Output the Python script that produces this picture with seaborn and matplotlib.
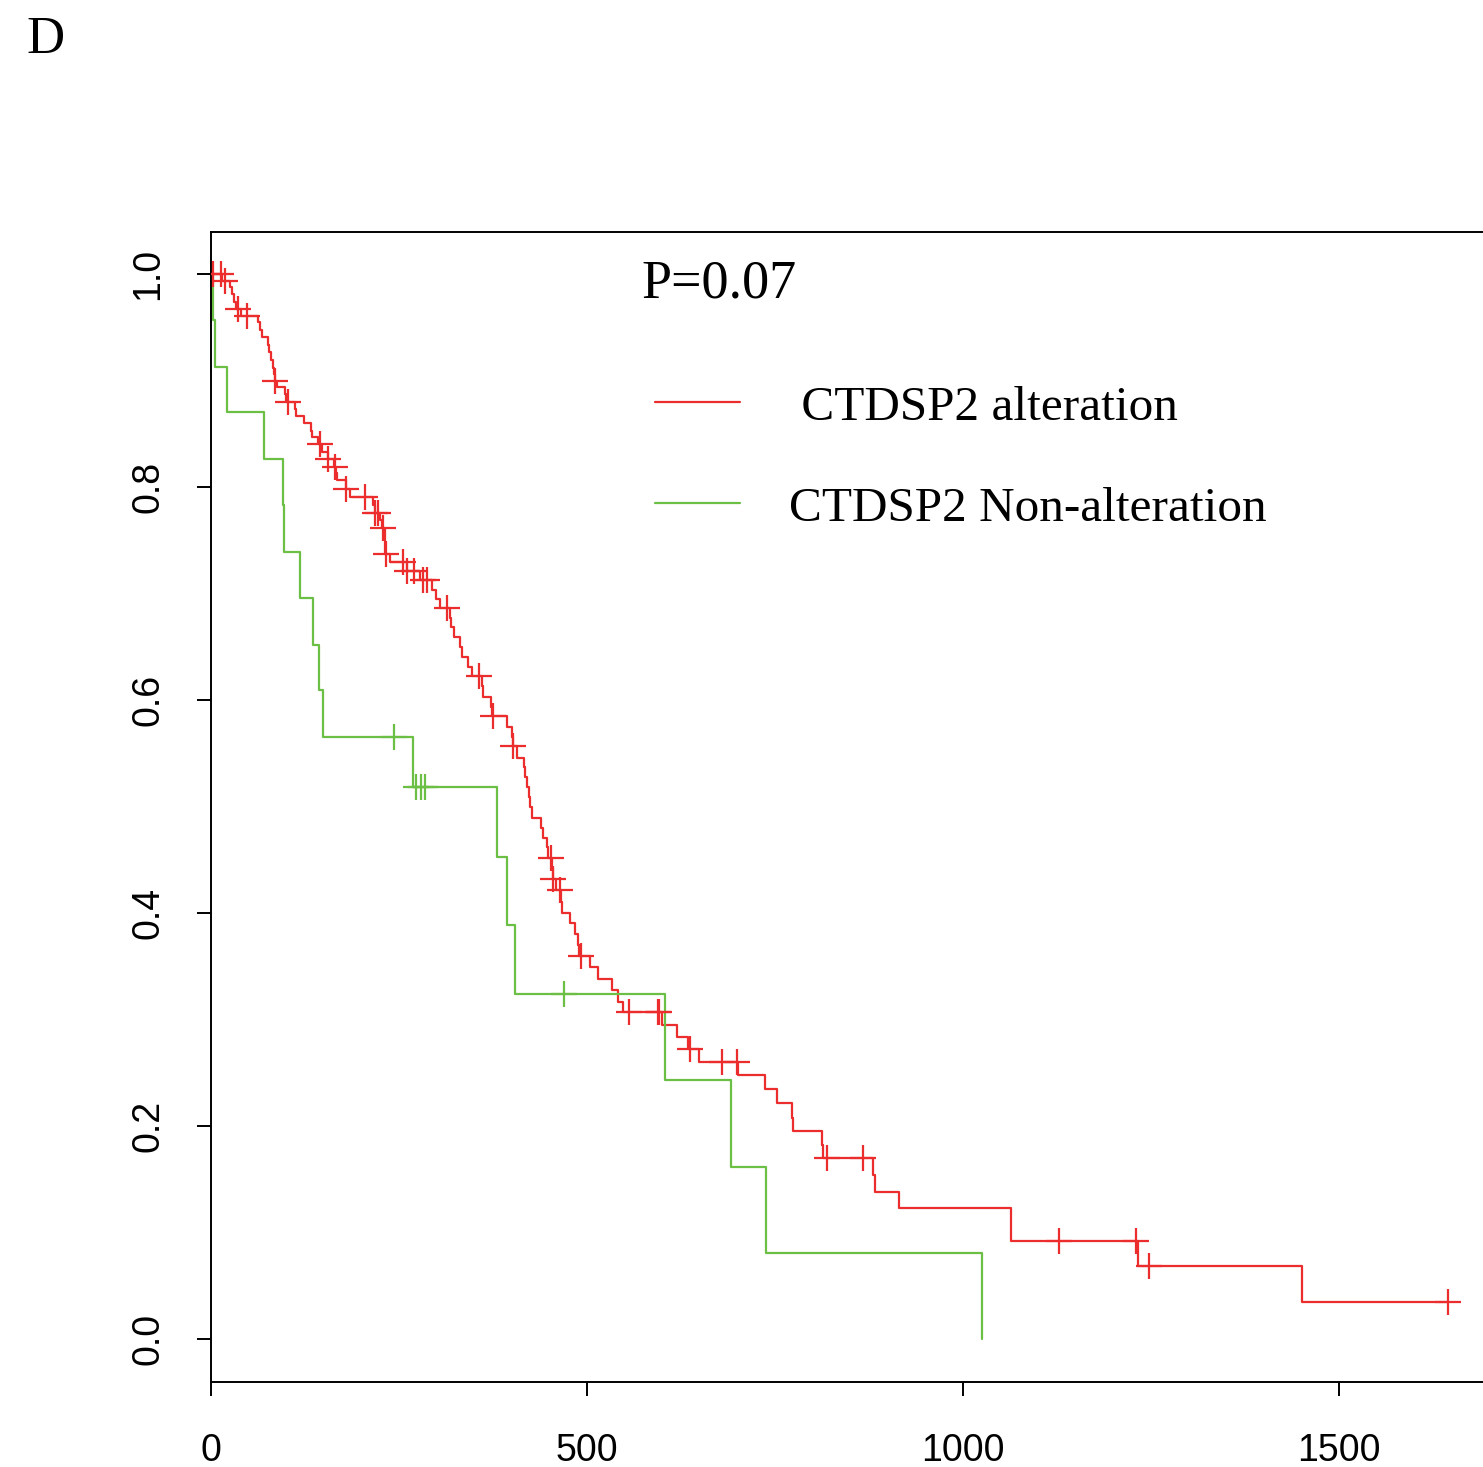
import numpy as np
import matplotlib
matplotlib.use("Agg")
import matplotlib.pyplot as plt
from matplotlib.lines import Line2D
import seaborn as sns

# Kaplan-Meier steps (time in days, survival after the drop)
alt_times = [15, 25, 28, 31, 33, 40, 63, 65, 68, 76, 77, 80, 82, 84, 85, 88,
             98, 100, 112, 113, 124, 133, 134, 142, 148, 156, 164, 166, 168, 180,
             185, 215, 218, 225, 227, 231, 232, 238, 261, 278, 294, 299, 305, 318,
             319, 323, 331, 334, 342, 347, 360, 362, 372, 374, 394, 400, 401, 407,
             416, 418, 420, 423, 424, 427, 439, 441, 447, 448, 453, 455, 459, 465,
             467, 477, 484, 488, 489, 504, 515, 533, 541, 548, 600, 620, 634, 649,
             701, 737, 753, 773, 774, 813, 814, 880, 883, 915, 1064, 1233, 1451]
alt_surv = [0.993, 0.988, 0.981, 0.974, 0.967, 0.961, 0.955, 0.947, 0.941, 0.933,
            0.927, 0.919, 0.912, 0.906, 0.900, 0.894, 0.887, 0.880, 0.873, 0.867,
            0.860, 0.853, 0.847, 0.840, 0.833, 0.826, 0.819, 0.813, 0.807, 0.798,
            0.791, 0.783, 0.776, 0.769, 0.762, 0.747, 0.737, 0.730, 0.721, 0.713,
            0.703, 0.695, 0.686, 0.677, 0.669, 0.659, 0.650, 0.640, 0.631, 0.623,
            0.613, 0.603, 0.593, 0.585, 0.575, 0.565, 0.557, 0.546, 0.537, 0.528,
            0.518, 0.509, 0.500, 0.489, 0.480, 0.470, 0.462, 0.452, 0.442, 0.432,
            0.422, 0.410, 0.400, 0.391, 0.380, 0.370, 0.360, 0.349, 0.338, 0.328,
            0.316, 0.307, 0.295, 0.284, 0.272, 0.260, 0.248, 0.235, 0.222, 0.208,
            0.195, 0.182, 0.170, 0.154, 0.138, 0.123, 0.092, 0.069, 0.035]
alt_cens = [3, 13, 19, 36, 48, 85, 102, 145, 156, 165, 180, 205, 218, 222, 229,
            233, 255, 261, 270, 282, 287, 314, 356, 375, 402, 452, 455, 464, 492,
            556, 594, 596, 637, 680, 699, 819, 867, 1128, 1230, 1247, 1645]

non_times = [3, 5, 21, 70, 96, 97, 118, 136, 144, 149, 269, 380, 394, 404,
             604, 691, 738, 1025]
non_surv = [0.957, 0.913, 0.870, 0.826, 0.783, 0.739, 0.696, 0.652, 0.609, 0.565,
            0.518, 0.453, 0.389, 0.324, 0.243, 0.162, 0.081, 0.0]
non_cens = [243, 273, 279, 285, 469]

labels = [" CTDSP2 alteration", "CTDSP2 Non-alteration"]
p_text = "P=0.07"
red = "#EC2D2D"
green = "#6CBF45"


def step_path(times, surv, end=None):
    x, y = [0], [1.0]
    for t, s in zip(times, surv):
        x += [t, t]
        y += [y[-1], s]
    if end is not None:
        x.append(end)
        y.append(y[-1])
    return x, y


def surv_at(times, surv, pts):
    idx = np.searchsorted(times, pts, side="right")
    return [1.0 if i == 0 else surv[i - 1] for i in idx]


sns.set_theme(style="ticks")
plt.rcParams["font.family"] = ["Liberation Sans", "DejaVu Sans"]
plt.rcParams["text.color"] = "black"
plt.rcParams["xtick.labelcolor"] = "black"
plt.rcParams["ytick.labelcolor"] = "black"

fig = plt.figure(figsize=(14.83, 14.67), dpi=100)
ax = fig.add_axes([0.1423, 0.0579, 0.862, 0.7839])

xr, yr = step_path(alt_times, alt_surv, end=max(alt_cens))
xg, yg = step_path(non_times, non_surv)

sns.lineplot(x=xr, y=yr, color=red, lw=1.6, estimator=None, sort=False, ax=ax)
sns.scatterplot(x=alt_cens, y=surv_at(alt_times, alt_surv, alt_cens), marker="+",
                s=330, color=red, linewidth=1.6, ax=ax, zorder=3)
sns.lineplot(x=xg, y=yg, color=green, lw=1.6, estimator=None, sort=False, ax=ax)
sns.scatterplot(x=non_cens, y=surv_at(non_times, non_surv, non_cens), marker="+",
                s=330, color=green, linewidth=1.6, ax=ax, zorder=3)

ax.set_xlim(0, 1700)
ax.set_ylim(-0.0404, 1.0394)
ax.set_xticks([0, 500, 1000, 1500])
ax.set_yticks([0.0, 0.2, 0.4, 0.6, 0.8, 1.0])
ax.set_yticklabels(["0.0", "0.2", "0.4", "0.6", "0.8", "1.0"], rotation=90, va="center")
ax.tick_params(axis="both", length=10, width=1.4, labelsize=27, color="black",
               labelcolor="black")
ax.tick_params(axis="x", pad=27)
ax.tick_params(axis="y", pad=22)
ax.set_xlabel("")
ax.set_ylabel("")
for sp in ax.spines.values():
    sp.set_visible(True)
    sp.set_linewidth(1.4)
    sp.set_color("black")

ax.text(0.337, 0.955, p_text, transform=ax.transAxes, va="center", ha="left",
        fontsize=39, family="Liberation Serif", color="black")

handles = [Line2D([], [], color=red, lw=1.6), Line2D([], [], color=green, lw=1.6)]
leg = ax.legend(handles, labels, loc="upper left", bbox_to_anchor=(0.3473, 0.867),
                frameon=False, prop={"family": "Liberation Serif", "size": 35.5},
                handlelength=1.72, handletextpad=1.0, labelspacing=1.15,
                borderaxespad=0, borderpad=0)
for t in leg.get_texts():
    t.set_color("black")

fig.text(45 / 1483, 1 - 40 / 1467, "D", ha="center", va="center", fontsize=38,
         family="Liberation Serif", color="black")

fig.savefig("out.png", dpi=100, facecolor="white")
